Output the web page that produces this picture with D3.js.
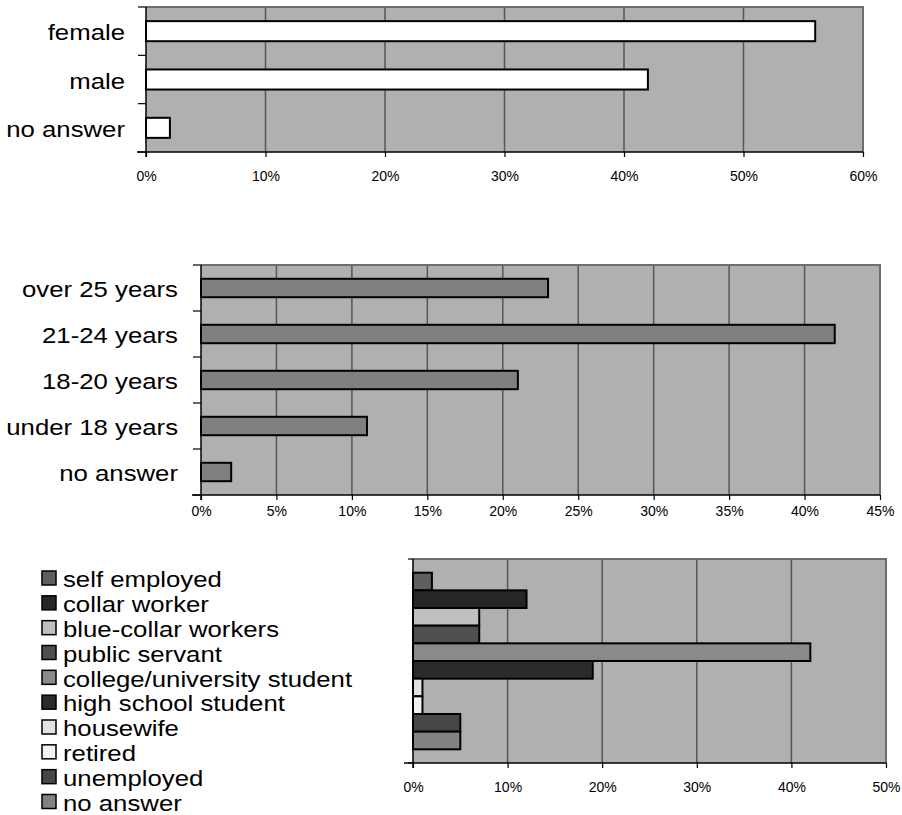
<!DOCTYPE html>
<html>
<head>
<meta charset="utf-8">
<script src="https://cdn.jsdelivr.net/npm/d3@7"></script>
<style>
  html, body { margin: 0; padding: 0; background: #fff; }
  svg { display: block; }
  text { font-family: "Liberation Sans", Arial, Helvetica, sans-serif; fill: #000; }
</style>
</head>
<body>
<svg id="chart" width="902" height="815"></svg>
<script>
// Survey respondents: gender
const genderCategories = ["female", "male", "no answer"];
const genderValues = [56, 42, 2];
const genderTicks = [0, 10, 20, 30, 40, 50, 60];

// Survey respondents: age group
const ageCategories = ["over 25 years", "21-24 years", "18-20 years", "under 18 years", "no answer"];
const ageValues = [23, 42, 21, 11, 2];
const ageTicks = [0, 5, 10, 15, 20, 25, 30, 35, 40, 45];

// Survey respondents: occupation (one series per occupation)
const occupationSeries = [
  "self employed", "collar worker", "blue-collar workers", "public servant",
  "college/university student", "high school student", "housewife",
  "retired", "unemployed", "no answer"
];
const occupationValues = [2, 12, 7, 7, 42, 19, 1, 1, 5, 5];
const occupationColors = [
  "#5f5f5f", "#262626", "#bfbfbf", "#4f4f4f", "#8a8a8a",
  "#2b2b2b", "#e2e2e2", "#f2f2f2", "#474747", "#828282"
];
const occupationTicks = [0, 10, 20, 30, 40, 50];

const svg = d3.select("#chart");
const PLOT_BG = "#b0b0b0";
const GRID = "#565656";
const LABEL_SIZE = "23px";
const LABEL_STRETCH = 1.12;   // category and legend text is set slightly wide

function wideText(sel, xFn, yFn) {
  return sel
    .attr("x", 0).attr("y", 0)
    .attr("transform", (d, i) => `translate(${xFn(d, i)},${yFn(d, i)}) scale(${LABEL_STRETCH},1)`)
    .attr("dy", "0.36em")
    .style("font-size", LABEL_SIZE);
}

// Shared drawing for a horizontal bar panel
function panel(opts) {
  const g = svg.append("g");
  const x = d3.scaleLinear().domain([0, opts.max]).range([opts.x0, opts.x1]);

  // plot area
  g.append("rect")
    .attr("x", opts.x0).attr("y", opts.y0)
    .attr("width", opts.x1 - opts.x0).attr("height", opts.y1 - opts.y0)
    .attr("fill", PLOT_BG);

  // vertical gridlines
  g.selectAll("line.grid").data(opts.ticks.filter(t => t > 0 && t < opts.max)).join("line")
    .attr("class", "grid")
    .attr("x1", d => x(d)).attr("x2", d => x(d))
    .attr("y1", opts.y0).attr("y2", opts.y1)
    .attr("stroke", GRID).attr("stroke-width", 1.5);

  // top and right border
  g.append("path")
    .attr("d", `M${opts.x0},${opts.y0}H${opts.x1}V${opts.y1}`)
    .attr("fill", "none").attr("stroke", "#6e6e6e").attr("stroke-width", 2);

  // bars
  opts.drawBars(g, x);

  // x axis
  const xAxis = d3.axisBottom(x)
    .tickValues(opts.ticks)
    .tickFormat(d => d + "%")
    .tickSize(5)
    .tickPadding(opts.labelGap);
  const ax = g.append("g").attr("transform", `translate(0,${opts.y1})`).call(xAxis);
  ax.select(".domain").attr("stroke", "#000").attr("stroke-width", 1.5)
    .attr("d", `M${opts.x0 - 9},0H${opts.x1}`);
  ax.selectAll(".tick line").attr("stroke", "#000").attr("stroke-width", 1.2);
  ax.selectAll(".tick text")
    .style("font-size", "14px")
    .style("font-family", '"Liberation Sans", Arial, sans-serif')
    .attr("fill", "#000");

  // y axis line
  g.append("line")
    .attr("x1", opts.x0).attr("x2", opts.x0)
    .attr("y1", opts.y0).attr("y2", opts.y1 + 5)
    .attr("stroke", "#000").attr("stroke-width", 1.5);

  return { g, x };
}

// Category panel: category ticks at band boundaries and labels on the left
function categoryPanel(opts) {
  const y = d3.scaleBand().domain(opts.categories)
    .range([opts.y0, opts.y1])
    .paddingInner(opts.pad).paddingOuter(opts.pad / 2);

  const { g } = panel({
    ...opts,
    drawBars(g, x) {
      g.selectAll("rect.bar").data(opts.categories).join("rect")
        .attr("class", "bar")
        .attr("x", x(0))
        .attr("y", d => y(d))
        .attr("width", (d, i) => x(opts.values[i]) - x(0))
        .attr("height", y.bandwidth())
        .attr("fill", opts.fill)
        .attr("stroke", "#000").attr("stroke-width", 2);
    }
  });

  const step = y.step();
  const bounds = d3.range(opts.categories.length + 1).map(i => opts.y0 + i * step);
  g.selectAll("line.ctick").data(bounds).join("line")
    .attr("class", "ctick")
    .attr("x1", opts.x0 - 8).attr("x2", opts.x0)
    .attr("y1", d => d).attr("y2", d => d)
    .attr("stroke", "#000").attr("stroke-width", 1.2);

  wideText(
    g.selectAll("text.cat").data(opts.categories).join("text").attr("class", "cat"),
    () => opts.x0 - opts.labelOffset,
    d => y(d) + y.bandwidth() / 2 + 1
  ).attr("text-anchor", "end").text(d => d);
}

// Gender
categoryPanel({
  categories: genderCategories, values: genderValues, fill: "#ffffff",
  max: 60, ticks: genderTicks,
  x0: 146, x1: 863, y0: 7, y1: 152, pad: 0.585,
  labelOffset: 21, labelGap: 14
});

// Age
categoryPanel({
  categories: ageCategories, values: ageValues, fill: "#808080",
  max: 45, ticks: ageTicks,
  x0: 201, x1: 880, y0: 265, y1: 495, pad: 0.6,
  labelOffset: 23, labelGap: 6
});

// Occupation: every occupation is its own series inside a single category
(function () {
  const opts = {
    max: 50, ticks: occupationTicks,
    x0: 413, x1: 886, y0: 559, y1: 763, labelGap: 14
  };
  const y = d3.scaleBand().domain(occupationSeries)
    .range([opts.y0, opts.y1]).paddingInner(0).paddingOuter(0.775);

  const { g } = panel({
    ...opts,
    drawBars(g, x) {
      g.selectAll("rect.bar").data(occupationSeries).join("rect")
        .attr("class", "bar")
        .attr("x", x(0))
        .attr("y", d => y(d))
        .attr("width", (d, i) => x(occupationValues[i]) - x(0))
        .attr("height", y.bandwidth())
        .attr("fill", (d, i) => occupationColors[i])
        .attr("stroke", "#000").attr("stroke-width", 2);
    }
  });

  g.selectAll("line.ctick").data([opts.y0, opts.y1]).join("line")
    .attr("class", "ctick")
    .attr("x1", opts.x0 - 5).attr("x2", opts.x0)
    .attr("y1", d => d).attr("y2", d => d)
    .attr("stroke", "#000").attr("stroke-width", 1.2);

  // legend
  const legendY = d3.scaleLinear().domain([0, occupationSeries.length - 1]).range([578, 801.5]);
  const lg = svg.append("g");
  const items = lg.selectAll("g.item").data(occupationSeries).join("g")
    .attr("class", "item")
    .attr("transform", (d, i) => `translate(42,${legendY(i)})`);
  items.append("rect")
    .attr("x", 0).attr("y", -7).attr("width", 14).attr("height", 14)
    .attr("fill", (d, i) => occupationColors[i])
    .attr("stroke", "#000").attr("stroke-width", 1.5);
  wideText(items.append("text"), () => 21, () => 1).text(d => d);
})();
</script>
</body>
</html>
